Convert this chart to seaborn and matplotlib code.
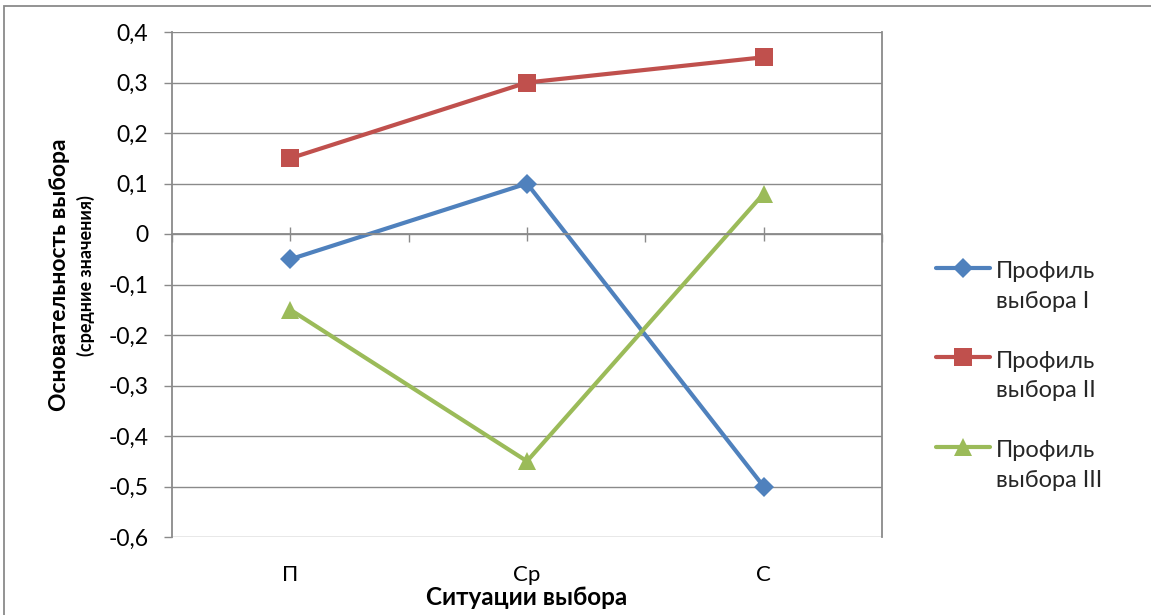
import matplotlib
matplotlib.use('Agg')
import matplotlib.pyplot as plt
import seaborn as sns
import pandas as pd
import numpy as np
from matplotlib.patches import Rectangle
from matplotlib.legend_handler import HandlerLine2D

# ---- data ----
situations = ['П', 'Ср', 'С']
profile_names = ['Профиль\nвыбора I', 'Профиль\nвыбора II', 'Профиль\nвыбора III']
profile_1 = [-0.05, 0.10, -0.50]
profile_2 = [0.15, 0.30, 0.35]
profile_3 = [-0.15, -0.45, 0.08]
y_ticks = [0.4, 0.3, 0.2, 0.1, 0.0, -0.1, -0.2, -0.3, -0.4, -0.5, -0.6]
y_tick_labels = ['0,4', '0,3', '0,2', '0,1', '0', '-0,1', '-0,2', '-0,3', '-0,4', '-0,5', '-0,6']
x_title = 'Ситуации выбора'
y_title = 'Основательность выбора'
y_subtitle = '(средние значения)'

series = [profile_1, profile_2, profile_3]
colors = ['#4F81BD', '#C0504D', '#9BBB59']
markers = ['D', 's', '^']
msizes = [10, 13, 13]

sns.set_theme(style='white')
plt.rcParams['font.family'] = ['Lato', 'DejaVu Sans']

W, H = 1151, 615
fig = plt.figure(figsize=(W / 100, H / 100), dpi=100)
ax = fig.add_axes([172 / W, 1 - 537 / H, (882 - 172) / W, (537 - 32) / H])

grid_c = '#8a8a8a'
for name, vals, c, m, ms in zip(profile_names, series, colors, markers, msizes):
    df = pd.DataFrame({'sit': situations, 'val': vals})
    sns.lineplot(data=df, x='sit', y='val', ax=ax, color=c, marker=m,
                 markersize=ms, markeredgewidth=0, linewidth=3.0, label=name,
                 sort=False)

ax.set_xlim(-0.5, 2.5)
ax.set_ylim(-0.6, 0.4)
ax.set_yticks(y_ticks, labels=y_tick_labels)
ax.yaxis.grid(True, color=grid_c, linewidth=1.0)
ax.xaxis.grid(False)
ax.set_axisbelow(True)

for s in ['left', 'right', 'top', 'bottom']:
    ax.spines[s].set_color(grid_c)
    ax.spines[s].set_linewidth(1.3)
ax.spines['top'].set_visible(False)
ax.spines['bottom'].set_position(('data', 0))

ax.set_xticks([0, 1, 2])
ax.set_xticks([-0.5, 0.5, 1.5, 2.5], minor=True)
ax.tick_params(axis='x', which='major', direction='inout', length=9.5, width=1.0,
               color=grid_c, labelbottom=False, bottom=True)
ax.tick_params(axis='x', which='minor', direction='out', length=6, width=1.0,
               color=grid_c, bottom=True)
ax.tick_params(axis='y', direction='out', length=6, width=1.0, color=grid_c,
               left=True, labelsize=16.5, pad=11, labelcolor='black')
ax.set_xlabel('')
ax.set_ylabel('')

sec = ax.secondary_xaxis('bottom')
sec.set_xticks([0, 1, 2], labels=situations)
sec.tick_params(length=0, pad=20, labelsize=16, labelcolor='black')
sec.spines['bottom'].set_visible(False)
sec.set_xlabel(x_title, fontsize=17.5, fontweight='bold', labelpad=1, color='black')

fig.text(60 / W, 1 - 275 / H, y_title, rotation=90, ha='center', va='center',
         fontsize=16.5, fontweight='bold', color='black')
fig.text(86 / W, 1 - 276 / H, y_subtitle, rotation=90, ha='center', va='center',
         fontsize=13, fontweight='bold', color='black')


class FirstLineHandler(HandlerLine2D):
    """Place the legend handle at the level of the first text line."""
    def create_artists(self, legend, orig_handle, xdescent, ydescent, width,
                       height, fontsize, trans):
        arts = super().create_artists(legend, orig_handle, xdescent, ydescent,
                                      width, height, fontsize, trans)
        for a in arts:
            a.set_ydata(np.asarray(a.get_ydata(), dtype=float) + 0.8 * fontsize)
        return arts


handles, labels = ax.get_legend_handles_labels()
leg = ax.legend(handles, labels, loc='center left',
                bbox_to_anchor=(936 / W, 1 - 376 / H),
                bbox_transform=fig.transFigure, frameon=False, fontsize=17,
                handlelength=2.3, handletextpad=0.25, labelspacing=1.65,
                borderpad=0, borderaxespad=0,
                handler_map={h: FirstLineHandler() for h in handles})
for t in leg.get_texts():
    t.set_linespacing(1.5)

fig.patches.append(Rectangle((4 / W, -0.05), 1.1, 1.05 - 6 / H,
                             transform=fig.transFigure, fill=False,
                             edgecolor=grid_c, linewidth=1.3))

fig.savefig('out.png', dpi=100)
